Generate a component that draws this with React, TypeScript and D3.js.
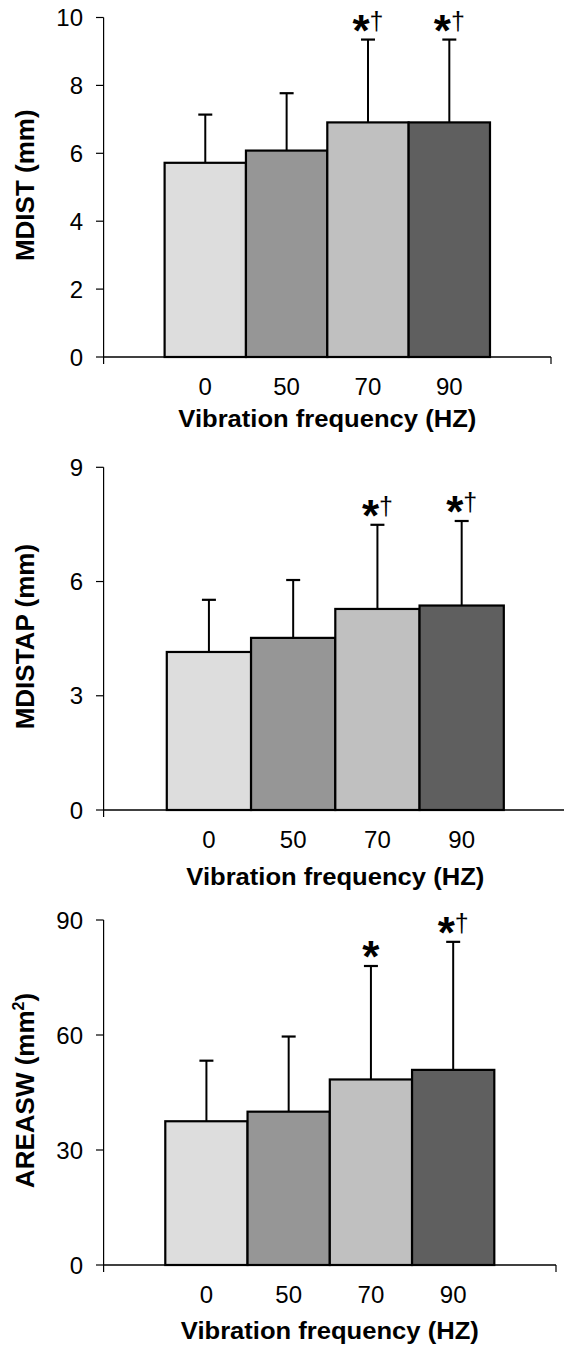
import React, { useEffect, useRef } from 'react';
import * as d3 from 'd3';

const frequencies = ['0', '50', '70', '90'];
const barColors = ['#dddddd', '#969696', '#c0c0c0', '#5f5f5f'];

const mdistMeans = [5.72, 6.08, 6.91, 6.91];
const mdistSd = [1.42, 1.69, 2.44, 2.44];
const mdistMarks = ['', '', '*†', '*†'];
const mdistTicks = [0, 2, 4, 6, 8, 10];

const mdistapMeans = [4.15, 4.52, 5.28, 5.37];
const mdistapSd = [1.37, 1.52, 2.21, 2.22];
const mdistapMarks = ['', '', '*†', '*†'];
const mdistapTicks = [0, 3, 6, 9];

const areaswMeans = [37.5, 40.0, 48.4, 50.9];
const areaswSd = [15.8, 19.6, 29.6, 33.4];
const areaswMarks = ['', '', '*', '*†'];
const areaswTicks = [0, 30, 60, 90];

const FONT = '"Liberation Sans", Arial, sans-serif';

const App = () => {
  const ref = useRef<SVGSVGElement>(null);

  useEffect(() => {
    const svg = d3.select(ref.current);
    svg.selectAll('*').remove();

    const width = 564;
    const height = 1348;
    svg.attr('width', width).attr('height', height);

    const axisX = 103.6;

    const panels = [
      { label: 'MDIST (mm)', sup: '', means: mdistMeans, sd: mdistSd, marks: mdistMarks, ticks: mdistTicks, top: 17.5, bottom: 357, right: 551, titleGap: 70 },
      { label: 'MDISTAP (mm)', sup: '', means: mdistapMeans, sd: mdistapSd, marks: mdistapMarks, ticks: mdistapTicks, top: 467.3, bottom: 810, right: 567, titleGap: 75 },
      { label: 'AREASW (mm', sup: '2', means: areaswMeans, sd: areaswSd, marks: areaswMarks, ticks: areaswTicks, top: 920, bottom: 1265, right: 556, titleGap: 74 },
    ];

    panels.forEach(p => {
      const g = svg.append('g');

      const y = d3.scaleLinear()
        .domain([0, d3.max(p.ticks) as number])
        .range([p.bottom, p.top]);

      const x = d3.scaleBand()
        .domain(frequencies)
        .range([axisX, p.right])
        .paddingInner(0)
        .paddingOuter(0.75);

      // y axis
      g.append('line')
        .attr('x1', axisX).attr('x2', axisX)
        .attr('y1', p.top).attr('y2', p.bottom)
        .attr('stroke', '#000').attr('stroke-width', 1.2);

      g.selectAll('.ytick')
        .data(p.ticks)
        .enter()
        .append('line')
        .attr('x1', axisX - 7.6).attr('x2', axisX)
        .attr('y1', d => y(d)).attr('y2', d => y(d))
        .attr('stroke', '#000').attr('stroke-width', 1.2);

      g.selectAll('.ylabel')
        .data(p.ticks)
        .enter()
        .append('text')
        .attr('x', 83)
        .attr('y', d => y(d) + 8.6)
        .attr('text-anchor', 'end')
        .attr('font-family', FONT)
        .attr('font-size', '24px')
        .text(d => d);

      // x axis
      g.append('line')
        .attr('x1', axisX).attr('x2', p.right)
        .attr('y1', y(0)).attr('y2', y(0))
        .attr('stroke', '#000').attr('stroke-width', 1.4);

      [axisX, p.right].forEach(xx => {
        g.append('line')
          .attr('x1', xx).attr('x2', xx)
          .attr('y1', y(0)).attr('y2', y(0) + 7)
          .attr('stroke', '#000').attr('stroke-width', 1.2);
      });

      // bars
      g.selectAll('.bar')
        .data(p.means)
        .enter()
        .append('rect')
        .attr('x', (d, i) => x(frequencies[i]) as number)
        .attr('y', d => y(d))
        .attr('width', x.bandwidth())
        .attr('height', d => y(0) - y(d))
        .attr('fill', (d, i) => barColors[i])
        .attr('stroke', '#000')
        .attr('stroke-width', 2.2);

      // error bars + significance marks
      p.means.forEach((m, i) => {
        const cx = (x(frequencies[i]) as number) + x.bandwidth() / 2;
        const top = y(m + p.sd[i]);
        g.append('line')
          .attr('x1', cx).attr('x2', cx)
          .attr('y1', y(m)).attr('y2', top)
          .attr('stroke', '#000').attr('stroke-width', 2);
        g.append('line')
          .attr('x1', cx - 7).attr('x2', cx + 7)
          .attr('y1', top).attr('y2', top)
          .attr('stroke', '#000').attr('stroke-width', 2.2);

        const mark = p.marks[i];
        if (mark) {
          const t = g.append('text')
            .attr('x', cx)
            .attr('y', top + 6)
            .attr('text-anchor', 'middle')
            .attr('font-family', FONT);
          t.append('tspan')
            .attr('font-size', '44px')
            .attr('font-weight', 'bold')
            .text('*');
          if (mark.length > 1) {
            t.append('tspan')
              .attr('font-size', '25px')
              .attr('dy', -15.5)
              .text(mark.slice(1));
          }
        }
      });

      // category labels
      g.selectAll('.xlabel')
        .data(frequencies)
        .enter()
        .append('text')
        .attr('x', d => (x(d) as number) + x.bandwidth() / 2)
        .attr('y', y(0) + 38)
        .attr('text-anchor', 'middle')
        .attr('font-family', FONT)
        .attr('font-size', '24px')
        .text(d => d);

      g.append('text')
        .attr('x', (axisX + p.right) / 2)
        .attr('y', y(0) + p.titleGap)
        .attr('text-anchor', 'middle')
        .attr('font-family', FONT)
        .attr('font-size', '23px')
        .attr('font-weight', 'bold')
        .attr('textLength', 298)
        .attr('lengthAdjust', 'spacingAndGlyphs')
        .text('Vibration frequency (HZ)');

      const yt = g.append('text')
        .attr('transform', `translate(34,${(p.top + p.bottom) / 2 - 2}) rotate(-90)`)
        .attr('text-anchor', 'middle')
        .attr('font-family', FONT)
        .attr('font-size', '26px')
        .attr('font-weight', 'bold');
      yt.append('tspan').text(p.label);
      if (p.sup) {
        yt.append('tspan').attr('font-size', '16px').attr('dy', -10).text(p.sup);
        yt.append('tspan').attr('dy', 10).text(')');
      }
    });
  }, []);

  return <svg ref={ref} style={{ position: 'absolute', left: 0, top: 0 }}></svg>;
};

export default App;
